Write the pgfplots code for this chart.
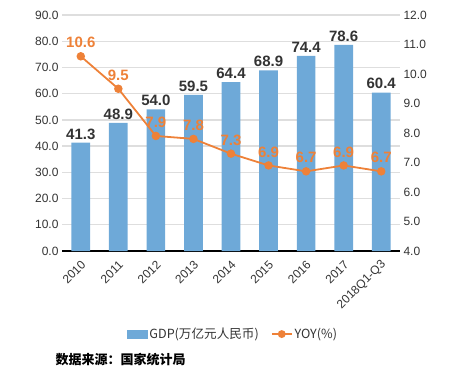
\documentclass[border=0pt]{standalone}
\usepackage{pgfplots}
\pgfplotsset{compat=1.18}
\usepackage{fontspec}
\setmainfont{Liberation Sans}
\newfontfamily\cjk{Noto Sans CJK SC}
\definecolor{barblue}{HTML}{6EA9D8}
\definecolor{lineorange}{HTML}{EE8138}
\definecolor{txtdark}{HTML}{333333}
\definecolor{gridgray}{HTML}{DEDEDE}
\begin{document}
\begin{tikzpicture}[x=1pt,y=1pt]
\useasboundingbox (0,0) rectangle (450,376);
\begin{axis}[
  at={(62pt,125pt)}, anchor=south west,
  scale only axis, width=338pt, height=236pt,
  xmin=-0.5, xmax=8.5, ymin=0, ymax=90,
  axis x line*=bottom, axis y line*=left,
  x axis line style={line width=1.8pt, black, -},
  y axis line style={draw=none},
  xtick={0,...,8},
  xticklabels={2010,2011,2012,2013,2014,2015,2016,2017,2018Q1-Q3},
  xticklabel style={rotate=45, anchor=east, font=\fontsize{12}{12}\selectfont, text=txtdark, inner sep=1pt, yshift=-10.3pt, xshift=-5.3pt},
  ytick distance=10,
  yticklabel style={font=\fontsize{12}{12}\selectfont, text=txtdark, /pgf/number format/.cd, fixed, fixed zerofill, precision=1},
  /pgf/number format/assume math mode=true,
  major tick length=0pt,
  ymajorgrids, grid style={gridgray, line width=1.3pt},
  ybar, bar width=18.7pt,
  nodes near coords,
  nodes near coords style={font=\bfseries\fontsize{15}{15}\selectfont, text=txtdark, /pgf/number format/.cd, fixed, fixed zerofill, precision=1},
  clip=false,
]
\addplot[fill=barblue, draw=none] coordinates {(0,41.3) (1,48.9) (2,54.0) (3,59.5) (4,64.4) (5,68.9) (6,74.4) (7,78.6) (8,60.4)};
\end{axis}
\begin{axis}[
  at={(62pt,125pt)}, anchor=south west,
  scale only axis, width=338pt, height=236pt,
  xmin=-0.5, xmax=8.5, ymin=4, ymax=12,
  axis x line=none, axis y line*=right,
  y axis line style={draw=none},
  ytick distance=1,
  yticklabel style={font=\fontsize{12}{12}\selectfont, text=txtdark, /pgf/number format/.cd, fixed, fixed zerofill, precision=1},
  /pgf/number format/assume math mode=true,
  major tick length=0pt,
  clip=false,
  legend style={at={(0.506,-0.352)}, anchor=center, draw=none, fill=none, legend columns=2,
    font=\cjk\fontsize{12.6}{13}\selectfont, text=txtdark,
    /tikz/every even column/.append style={column sep=10pt}},
  legend image code/.code={\draw[lineorange, line width=1.8pt] (0pt,0pt) -- (20pt,0pt); \fill[lineorange] (10pt,0pt) circle (3pt);},
]
\addlegendimage{legend image code/.code={\fill[barblue] (0pt,-4pt) rectangle (20pt,4pt);}}
\addlegendentry{GDP(万亿元人民币)}
\addplot[lineorange, line width=1.8pt, mark=*, mark size=3.3pt, mark options={fill=lineorange, draw=lineorange},
  nodes near coords, nodes near coords style={font=\bfseries\fontsize{15}{15}\selectfont, text=lineorange, yshift=4pt, /pgf/number format/.cd, fixed, fixed zerofill, precision=1}]
  coordinates {(0,10.6) (1,9.5) (2,7.9) (3,7.8) (4,7.3) (5,6.9) (6,6.7) (7,6.9) (8,6.7)};
\addlegendentry{YOY(\%)}
\end{axis}
\node[anchor=west, text=black, font=\cjk\bfseries\fontsize{13}{13}\selectfont] at (52,16) {数据来源：国家统计局};
\end{tikzpicture}
\end{document}
